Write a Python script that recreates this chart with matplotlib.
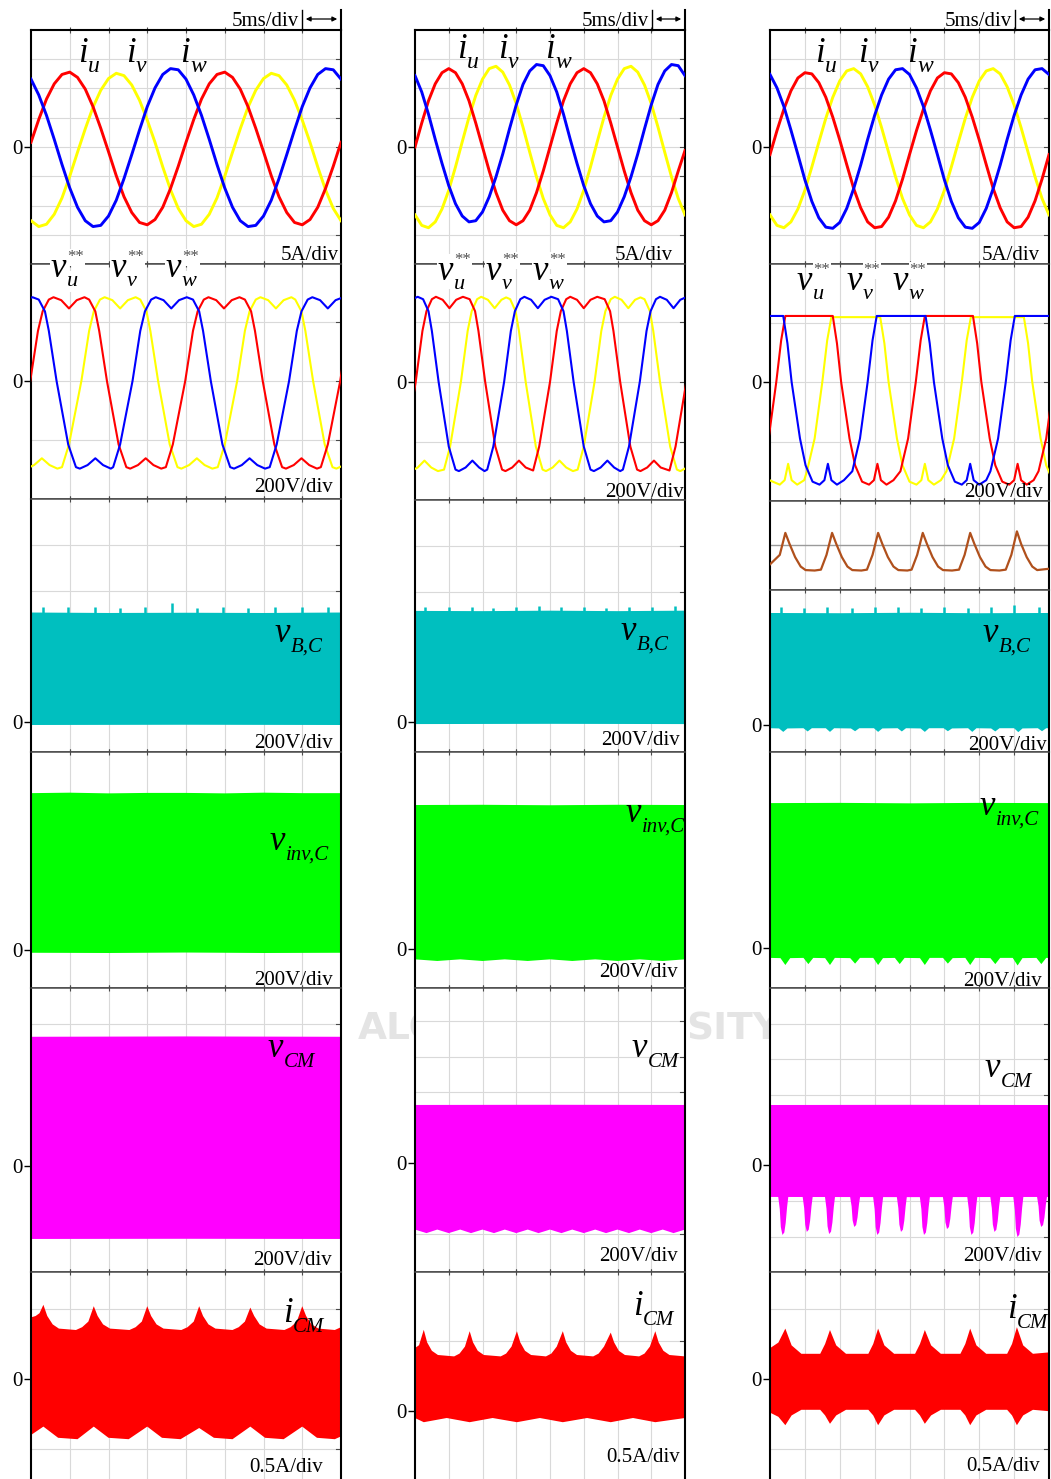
import numpy as np
import matplotlib
matplotlib.use("Agg")
import matplotlib.pyplot as plt
from matplotlib.lines import Line2D
from matplotlib.patches import FancyArrowPatch
from matplotlib.transforms import blended_transform_factory

plt.rcParams["font.family"] = ["Liberation Serif", "DejaVu Serif"]

# ------------------------------------------------------------------ data
# time axis: 8 divisions of 5 ms; phase currents sampled every 1 ms
t_cur = list(range(41))

# ---- case 1 : phase currents (A)
iu_1 = [0.8, 4.7, 8.2, 10.8, 12.4, 12.8, 11.9, 9.9, 6.9, 3.2,
        -0.8, -4.9, -8.5, -11.2, -12.9, -13.3, -12.4, -10.3, -7.1, -3.3,
        0.8, 4.7, 8.2, 10.8, 12.4, 12.8, 11.9, 9.9, 6.9, 3.2,
        -0.8, -4.9, -8.5, -11.2, -12.9, -13.3, -12.4, -10.3, -7.1, -3.3, 0.8]
iv_1 = [-12.6, -13.6, -13.2, -11.5, -8.7, -5.0, -0.9, 3.1, 6.8, 9.7,
        11.7, 12.6, 12.2, 10.6, 8.0, 4.6, 0.8, -3.4, -7.3, -10.5,
        -12.6, -13.6, -13.2, -11.5, -8.7, -5.0, -0.9, 3.1, 6.8, 9.7,
        11.7, 12.6, 12.2, 10.6, 8.0, 4.6, 0.8, -3.4, -7.3, -10.5, -12.6]
iw_1 = [11.6, 8.9, 5.4, 1.3, -3.0, -7.0, -10.3, -12.6, -13.6, -13.4,
        -11.8, -9.1, -5.4, -1.3, 2.9, 6.9, 10.1, 12.4, 13.4, 13.2,
        11.6, 8.9, 5.4, 1.3, -3.0, -7.0, -10.3, -12.6, -13.6, -13.4,
        -11.8, -9.1, -5.4, -1.3, 2.9, 6.9, 10.1, 12.4, 13.4, 13.2, 11.6]

# ---- case 2 : phase currents (A)
iu_2 = [0.0, 4.1, 7.9, 10.8, 12.7, 13.4, 12.7, 10.8, 7.9, 4.1,
        0.0, -4.1, -7.8, -10.8, -12.6, -13.3, -12.6, -10.8, -7.8, -4.1,
        0.0, 4.1, 7.9, 10.8, 12.7, 13.4, 12.7, 10.8, 7.9, 4.1,
        0.0, -4.1, -7.8, -10.8, -12.6, -13.3, -12.6, -10.8, -7.8, -4.1, -0.6]
iv_2 = [-11.6, -13.4, -13.8, -12.8, -10.6, -7.4, -3.4, 0.9, 5.1, 8.8,
        11.6, 13.4, 13.8, 12.8, 10.6, 7.4, 3.4, -0.9, -5.1, -8.8,
        -11.6, -13.4, -13.8, -12.8, -10.6, -7.4, -3.4, 0.9, 5.1, 8.8,
        11.6, 13.4, 13.8, 12.8, 10.6, 7.4, 3.4, -0.9, -5.1, -8.8, -11.6]
iw_2 = [12.2, 9.4, 5.6, 1.3, -2.8, -6.6, -9.7, -11.8, -12.8, -12.6,
        -11.1, -8.5, -5.1, -1.2, 3.1, 7.2, 10.7, 13.0, 14.1, 13.9,
        12.2, 9.4, 5.6, 1.3, -2.8, -6.6, -9.7, -11.8, -12.8, -12.6,
        -11.1, -8.5, -5.1, -1.2, 3.1, 7.2, 10.7, 13.0, 14.1, 13.9, 12.2]

# ---- case 3 : phase currents (A)
iu_3 = [-1.3, 2.8, 6.5, 9.6, 11.8, 12.7, 12.5, 11.0, 8.5, 5.1,
        1.2, -3.0, -7.1, -10.4, -12.8, -13.8, -13.6, -12.0, -9.2, -5.5,
        -1.3, 2.8, 6.5, 9.6, 11.8, 12.7, 12.5, 11.0, 8.5, 5.1,
        1.2, -3.0, -7.1, -10.4, -12.8, -13.8, -13.6, -12.0, -9.2, -5.5, -1.3]
iv_3 = [-11.6, -13.4, -13.8, -12.8, -10.6, -7.4, -3.4, 0.8, 4.9, 8.5,
        11.3, 13.0, 13.4, 12.5, 10.3, 7.2, 3.3, -0.9, -5.1, -8.8,
        -11.6, -13.4, -13.8, -12.8, -10.6, -7.4, -3.4, 0.8, 4.9, 8.5,
        11.3, 13.0, 13.4, 12.5, 10.3, 7.2, 3.3, -0.9, -5.1, -8.8, -11.6]
iw_3 = [12.4, 10.1, 6.9, 2.9, -1.3, -5.6, -9.3, -12.1, -13.7, -13.9,
        -12.9, -10.5, -7.1, -3.1, 1.3, 5.4, 8.9, 11.6, 13.2, 13.4,
        12.4, 10.1, 6.9, 2.9, -1.3, -5.6, -9.3, -12.1, -13.7, -13.9,
        -12.9, -10.5, -7.1, -3.1, 1.3, 5.4, 8.9, 11.6, 13.2, 13.4, 12.4]

# ---- reference voltages v**, (ms, V) breakpoints
vu_ref_1 = [(-3.2, -297), (-2.6, -292), (-1.7, -215), (-0.1, 0), (0.9, 170), (1.5, 236), (2.3, 276),
            (2.9, 284), (3.9, 274), (4.9, 246), (5.9, 274), (6.9, 284),
            (7.5, 276), (8.3, 236), (8.8, 170), (9.8, 0), (11.3, -215), (12.3, -292),
            (12.8, -297), (13.8, -285), (14.8, -262), (15.8, -285), (16.8, -297),
            (17.4, -292), (18.3, -215), (19.9, 0), (20.9, 170), (21.5, 236), (22.3, 276),
            (22.9, 284), (23.9, 274), (24.9, 246), (25.9, 274), (26.9, 284),
            (27.6, 276), (28.4, 236), (28.9, 170), (29.9, 0), (31.4, -215), (32.4, -292),
            (32.9, -297), (33.9, -285), (34.9, -262), (35.9, -285), (36.9, -297),
            (37.4, -292), (38.3, -215), (39.9, 0), (40.9, 170)]
vv_ref_1 = [(-1.1, -292), (-0.6, -297), (0.4, -285), (1.4, -262), (2.4, -285), (3.4, -297),
            (4.0, -292), (4.9, -215), (6.5, 0), (7.5, 170), (8.1, 236), (8.9, 276),
            (9.5, 284), (10.5, 274), (11.5, 246), (12.5, 274), (13.5, 284),
            (14.1, 276), (14.9, 236), (15.4, 170), (16.4, 0), (17.9, -215), (18.9, -292),
            (19.4, -297), (20.4, -285), (21.4, -262), (22.4, -285), (23.4, -297),
            (24.1, -292), (25.0, -215), (26.6, 0), (27.6, 170), (28.2, 236), (29.0, 276),
            (29.6, 284), (30.6, 274), (31.6, 246), (32.6, 274), (33.6, 284),
            (34.1, 276), (34.9, 236), (35.4, 170), (36.4, 0), (37.9, -215), (38.9, -292),
            (39.4, -297), (40.4, -285)]
vw_ref_1 = [(-2.8, 274), (-1.8, 246), (-0.8, 274), (0.2, 284),
            (1.0, 276), (1.8, 236), (2.3, 170), (3.3, 0), (4.8, -215), (5.8, -292),
            (6.3, -297), (7.3, -285), (8.3, -262), (9.3, -285), (10.3, -297),
            (10.6, -292), (11.5, -215), (13.1, 0), (14.1, 170), (14.7, 236), (15.5, 276),
            (16.1, 284), (17.1, 274), (18.1, 246), (19.1, 274), (20.1, 284),
            (20.9, 276), (21.7, 236), (22.2, 170), (23.2, 0), (24.7, -215), (25.7, -292),
            (26.2, -297), (27.2, -285), (28.2, -262), (29.2, -285), (30.2, -297),
            (30.8, -292), (31.7, -215), (33.3, 0), (34.3, 170), (34.9, 236), (35.7, 276),
            (36.3, 284), (37.3, 274), (38.3, 246), (39.3, 274), (40.3, 284)]

vu_ref_2 = [(-3.8, -285), (-2.8, -297), (-2.4, -292), (-1.5, -215), (0.1, 0), (1.1, 170), (1.7, 236), (2.5, 276),
            (3.1, 284), (4.1, 274), (5.1, 246), (6.1, 274), (7.1, 284),
            (8.1, 276), (8.9, 236), (9.4, 170), (10.4, 0), (11.9, -215), (12.9, -292),
            (13.4, -297), (14.4, -285), (15.4, -262), (16.4, -285),
            (17.5, -295), (18.4, -215), (20.0, 0), (21.0, 170), (21.6, 236), (22.4, 276),
            (23.0, 284), (24.0, 274), (25.0, 246), (26.0, 274), (27.0, 284),
            (28.1, 276), (28.9, 236), (29.4, 170), (30.4, 0), (31.9, -215), (32.9, -292),
            (33.4, -297), (34.4, -285), (35.4, -262), (36.4, -285),
            (37.7, -295), (38.6, -215), (40.2, 0), (41.2, 170)]
vv_ref_2 = [(-1.1, -292), (-0.6, -297), (0.4, -285), (1.4, -262), (2.4, -285), (3.4, -297),
            (4.3, -292), (5.2, -215), (6.8, 0), (7.8, 170), (8.4, 236), (9.2, 276),
            (9.8, 284), (10.8, 274), (11.8, 246), (12.8, 274), (13.5, 282),
            (14.1, 276), (14.9, 236), (15.4, 170), (16.4, 0), (17.9, -215), (18.9, -292),
            (19.4, -297), (20.4, -285), (21.4, -262), (22.4, -285), (23.4, -297),
            (24.1, -292), (25.0, -215), (26.6, 0), (27.6, 170), (28.2, 236), (29.0, 276),
            (29.6, 284), (30.6, 274), (31.6, 246), (32.6, 274), (33.4, 282),
            (34.0, 276), (34.8, 236), (35.3, 170), (36.3, 0), (37.8, -215), (38.8, -292),
            (39.3, -297), (40.3, -285)]
vw_ref_2 = [(-2.6, 274), (-1.6, 246), (-0.6, 274), (0.4, 284),
            (1.2, 276), (2.0, 236), (2.5, 170), (3.5, 0), (5.0, -215), (6.0, -292),
            (6.5, -297), (7.5, -285), (8.5, -262), (9.5, -285), (10.3, -297),
            (10.7, -292), (11.6, -215), (13.2, 0), (14.2, 170), (14.8, 236), (15.6, 276),
            (16.2, 284), (17.2, 274), (18.2, 246), (19.2, 274), (20.2, 284),
            (21.2, 276), (22.0, 236), (22.5, 170), (23.5, 0), (25.0, -215), (26.0, -292),
            (26.5, -297), (27.5, -285), (28.5, -262), (29.5, -285), (30.4, -297),
            (30.8, -292), (31.7, -215), (33.3, 0), (34.3, 170), (34.9, 236), (35.7, 276),
            (36.3, 284), (37.3, 274), (38.3, 246), (39.3, 274), (40.3, 284)]

vu_ref_3 = [(-2.5, -330), (-1.3, -300), (-0.2, -190), (0.9, 0), (1.6, 140), (2.2, 222),
            (9.0, 222), (9.6, 130), (10.2, 0), (11.4, -190), (12.2, -280), (13.2, -335),
            (14.2, -345), (14.9, -330), (15.4, -275), (15.9, -330), (16.7, -345), (17.7, -330),
            (18.7, -300), (19.8, -190), (20.9, 0), (21.6, 140), (22.2, 222),
            (29.1, 222), (29.7, 130), (30.3, 0), (31.5, -190), (32.3, -280), (33.3, -335),
            (34.3, -345), (35.0, -330), (35.5, -275), (36.0, -330), (36.8, -345), (37.8, -330),
            (38.5, -300), (39.6, -190), (40.7, 0)]
vv_ref_3 = [(-1.0, -320), (0.4, -335), (1.4, -345), (2.1, -330), (2.6, -275), (3.1, -330), (3.9, -345), (4.9, -330),
            (5.3, -300), (6.4, -190), (7.5, 0), (8.2, 140), (8.8, 218),
            (15.8, 218), (16.4, 130), (17.0, 0), (18.2, -190), (19.0, -280), (20.0, -335),
            (21.0, -345), (21.7, -330), (22.2, -275), (22.7, -330), (23.5, -345), (24.5, -330),
            (25.3, -300), (26.4, -190), (27.5, 0), (28.2, 140), (28.8, 218),
            (36.4, 218), (37.0, 130), (37.6, 0), (38.8, -190), (39.6, -280), (40.6, -335)]
vw_ref_3 = [(-1.0, 222), (1.9, 222), (2.5, 130), (3.1, 0), (4.3, -190), (5.1, -280), (6.1, -335),
            (7.1, -345), (7.8, -330), (8.3, -275), (8.8, -330), (9.6, -345), (10.6, -330),
            (11.8, -300), (12.9, -190), (14.0, 0), (14.7, 140), (15.3, 222),
            (22.3, 222), (22.9, 130), (23.5, 0), (24.7, -190), (25.5, -280), (26.5, -335),
            (27.5, -345), (28.2, -330), (28.7, -275), (29.2, -330), (30.0, -345), (31.0, -330),
            (31.6, -300), (32.7, -190), (33.8, 0), (34.5, 140), (35.1, 222), (41.0, 222)]

# ---- case 3 : extra low-frequency ripple trace (V)
ripple_3 = [(0.0, -88), (1.4, -45), (2.2, 55), (2.8, 5), (3.6, -55), (4.4, -98), (5.1, -114), (6.4, -116),
            (7.3, -112), (8.1, -45), (8.9, 55), (9.5, 5), (10.3, -55), (11.1, -98), (11.8, -114), (13.1, -116),
            (13.9, -112), (14.7, -45), (15.5, 55), (16.1, 5), (16.9, -55), (17.7, -98), (18.4, -114), (19.7, -116),
            (20.3, -112), (21.1, -45), (21.9, 55), (22.5, 5), (23.3, -55), (24.1, -98), (24.8, -114), (26.1, -116),
            (27.1, -112), (27.9, -45), (28.7, 55), (29.3, 5), (30.1, -55), (30.9, -98), (31.6, -114), (32.9, -116),
            (33.8, -112), (34.6, -45), (35.4, 62), (36.0, 5), (36.8, -55), (37.6, -98), (38.3, -114), (40.0, -108)]

# ---- PWM waveform envelopes: upper / lower edges (ms, V or A) and edge spikes (ms, peak)
vbc_top_1 = [(0, 476), (10, 474), (20, 475), (30, 474), (40, 476)]
vbc_bot_1 = [(0, -13), (20, -12), (40, -13)]
vbc_spk_1 = [(1.6, 500), (4.8, 498), (8.3, 500), (11.5, 495), (14.7, 500), (18.2, 517),
             (21.4, 497), (24.8, 500), (28.0, 496), (31.5, 498), (35.0, 500), (38.3, 500)]
vinv_top_1 = [(0, 682), (5, 684), (10, 681), (15, 683), (20, 683), (25, 681), (30, 684), (35, 682), (40, 682)]
vinv_bot_1 = [(0, -12), (10, -13), (20, -11), (30, -13), (40, -12)]
vcm_top_1 = [(0, 728), (20, 730), (40, 728)]
vcm_bot_1 = [(0, -411), (20, -410), (40, -411)]
icm_top_1 = [(0, 0.44), (0.6, 0.45), (1.1, 0.47), (1.6, 0.53), (2.1, 0.45), (2.8, 0.39), (3.6, 0.36),
             (5.8, 0.35), (6.6, 0.37), (7.4, 0.41), (8.1, 0.52), (8.6, 0.45), (9.3, 0.39), (10.2, 0.36),
             (12.7, 0.35), (13.5, 0.37), (14.3, 0.41), (15.0, 0.52), (15.5, 0.45), (16.2, 0.39), (17.1, 0.36),
             (19.4, 0.35), (20.2, 0.37), (21.0, 0.41), (21.7, 0.52), (22.2, 0.45), (22.9, 0.39), (23.8, 0.36),
             (26.0, 0.35), (26.8, 0.37), (27.6, 0.41), (28.3, 0.51), (28.8, 0.45), (29.5, 0.39), (30.4, 0.36),
             (32.7, 0.35), (33.5, 0.37), (34.3, 0.41), (35.0, 0.52), (35.5, 0.45), (36.2, 0.39), (37.1, 0.36),
             (39.2, 0.35), (40, 0.37)]
icm_bot_1 = [(0, -0.40), (1.6, -0.34), (3.5, -0.42), (6.0, -0.43), (8.1, -0.34), (10.0, -0.42), (12.6, -0.43),
             (15.0, -0.34), (16.9, -0.42), (19.3, -0.43), (21.7, -0.35), (23.6, -0.42), (26.0, -0.43),
             (28.3, -0.34), (30.2, -0.42), (32.6, -0.43), (35.0, -0.34), (36.9, -0.42), (39.2, -0.43), (40, -0.41)]

vbc_top_2 = [(0, 483), (10, 482), (20, 484), (30, 482), (40, 484)]
vbc_bot_2 = [(0, -9), (20, -8), (40, -9)]
vbc_spk_2 = [(1.5, 500), (5.0, 498), (8.4, 502), (11.6, 497), (15.0, 500), (18.4, 505),
             (21.6, 498), (25.0, 500), (28.3, 497), (31.7, 500), (35.1, 498), (38.5, 505)]
vinv_top_2 = [(0, 626), (10, 627), (20, 625), (30, 627), (40, 626)]
vinv_bot_2 = [(0, -45), (3.3, -52), (6.7, -45), (10, -52), (13.3, -45), (16.7, -52), (20, -45),
              (23.3, -52), (26.7, -45), (30, -52), (33.3, -45), (36.7, -52), (40, -45)]
vcm_top_2 = [(0, 327), (20, 328), (40, 327)]
vcm_bot_2 = [(0, -375), (1.7, -395), (3.3, -375), (5.0, -395), (6.7, -375), (8.3, -395), (10, -375),
             (11.7, -395), (13.3, -375), (15.0, -395), (16.7, -375), (18.3, -395), (20, -375),
             (21.7, -395), (23.3, -375), (25.0, -395), (26.7, -375), (28.3, -395), (30, -375),
             (31.7, -395), (33.3, -375), (35.0, -395), (36.7, -375), (38.3, -395), (40, -375)]
icm_top_2 = [(0, 0.45), (0.6, 0.47), (1.3, 0.58), (1.8, 0.49), (2.5, 0.43), (3.4, 0.40),
             (5.8, 0.39), (6.6, 0.41), (7.4, 0.46), (8.1, 0.57), (8.6, 0.49), (9.3, 0.43), (10.2, 0.40),
             (12.7, 0.39), (13.5, 0.41), (14.3, 0.46), (15.1, 0.57), (15.6, 0.49), (16.3, 0.43), (17.2, 0.40),
             (19.4, 0.39), (20.2, 0.41), (21.0, 0.46), (21.9, 0.57), (22.4, 0.49), (23.1, 0.43), (24.0, 0.40),
             (26.4, 0.39), (27.2, 0.41), (28.0, 0.46), (29.0, 0.56), (29.5, 0.49), (30.2, 0.43), (31.1, 0.40),
             (33.2, 0.39), (34.0, 0.41), (34.8, 0.46), (35.6, 0.57), (36.1, 0.49), (36.8, 0.43), (37.7, 0.40),
             (40, 0.39)]
icm_bot_2 = [(0, -0.05), (1.3, -0.08), (4.7, -0.05), (8.1, -0.08), (11.5, -0.05), (15.1, -0.08),
             (18.5, -0.05), (21.9, -0.08), (25.5, -0.05), (29.0, -0.08), (32.3, -0.05), (35.6, -0.08),
             (40, -0.05)]

vbc_top_3 = [(0, 487), (10, 486), (20, 488), (30, 486), (40, 487)]
vbc_bot_3 = [(0, -14), (1.3, -15), (1.9, -30), (2.5, -15), (4.8, -14), (5.4, -28), (6.0, -14),
             (8.0, -14), (8.6, -30), (9.2, -14), (11.6, -15), (12.2, -27), (12.8, -14),
             (14.9, -14), (15.5, -30), (16.1, -15), (18.3, -14), (18.9, -28), (19.5, -14),
             (21.6, -15), (22.2, -30), (22.8, -14), (24.9, -14), (25.5, -27), (26.1, -15),
             (28.4, -14), (29.0, -30), (29.6, -14), (31.7, -15), (32.3, -28), (32.9, -14),
             (35.0, -14), (35.6, -31), (36.2, -15), (38.4, -14), (39.0, -27), (39.6, -14), (40, -14)]
vbc_spk_3 = [(1.6, 515), (4.9, 510), (8.2, 515), (11.7, 508), (15.0, 512), (18.3, 515),
             (21.6, 510), (25.0, 515), (28.4, 510), (31.7, 512), (35.0, 520), (38.5, 515)]
vinv_top_3 = [(0, 630), (10, 631), (20, 629), (30, 631), (40, 630)]
vinv_bot_3 = [(0, -43), (1.5, -44), (2.2, -74), (2.9, -44), (4.8, -43), (5.5, -70), (6.2, -43),
              (7.9, -44), (8.6, -74), (9.3, -43), (11.5, -44), (12.2, -68), (12.9, -43),
              (14.8, -43), (15.5, -74), (16.2, -44), (17.9, -43), (18.6, -70), (19.3, -43),
              (21.5, -44), (22.2, -74), (22.9, -43), (24.8, -43), (25.5, -68), (26.2, -44),
              (28.0, -43), (28.7, -74), (29.4, -43), (31.6, -44), (32.3, -70), (33.0, -43),
              (34.8, -43), (35.5, -76), (36.2, -44), (38.2, -43), (38.9, -70), (39.6, -43), (40, -43)]
vcm_top_3 = [(0, 338), (20, 339), (40, 338)]
vcm_bot_3 = [(0, -180), (20, -181), (40, -180)]
vcm_dip_3 = [(1.9, -394), (5.4, -377), (8.6, -389), (12.2, -349), (15.5, -394), (18.9, -377),
             (22.2, -394), (25.5, -361), (29.0, -394), (32.3, -377), (35.6, -406), (39.0, -349)]
icm_top_3 = [(0, 0.22), (1.2, 0.26), (2.2, 0.36), (3.1, 0.24), (4.5, 0.18), (7.2, 0.18), (7.9, 0.25),
             (8.6, 0.35), (9.5, 0.24), (10.9, 0.18), (14.1, 0.18), (14.8, 0.25), (15.5, 0.36),
             (16.4, 0.24), (17.8, 0.18), (20.8, 0.18), (21.5, 0.25), (22.2, 0.35), (23.1, 0.24),
             (24.5, 0.18), (27.3, 0.18), (28.0, 0.25), (28.7, 0.36), (29.6, 0.24), (31.0, 0.18),
             (34.0, 0.18), (34.7, 0.25), (35.4, 0.37), (36.3, 0.24), (37.7, 0.18), (40, 0.19)]
icm_bot_3 = [(0, -0.24), (1.2, -0.27), (2.2, -0.33), (3.1, -0.26), (4.5, -0.22), (7.2, -0.22), (7.9, -0.26),
             (8.6, -0.32), (9.5, -0.26), (10.9, -0.22), (14.1, -0.22), (14.8, -0.26), (15.5, -0.33),
             (16.4, -0.26), (17.8, -0.22), (20.8, -0.22), (21.5, -0.26), (22.2, -0.32), (23.1, -0.26),
             (24.5, -0.22), (27.3, -0.22), (28.0, -0.26), (28.7, -0.33), (29.6, -0.26), (31.0, -0.22),
             (34.0, -0.22), (34.7, -0.26), (35.4, -0.33), (36.3, -0.26), (37.7, -0.22), (40, -0.23)]

# ------------------------------------------------------------------ drawing
W, H = 1051, 1479
fig = plt.figure(figsize=(W / 100, H / 100), dpi=100)
fig.patch.set_facecolor("white")
renderer = fig.canvas.get_renderer()

GRID = "#d9d9d9"
SEP = "#4a4a4a"
RED, YEL, BLU = "#ff0000", "#ffff00", "#0000ff"
TEAL, GREEN, MAG, BROWN = "#00bfbf", "#00ff00", "#ff00ff", "#b0501c"
TXT = 15


def fx(px):
    return px / W


def fy(py):
    return 1 - py / H


def panel(x0, x1, top, bot, zero, ppu, grid_px, first=False, last=False, zero_label=True):
    ax = fig.add_axes([fx(x0), fy(bot), (x1 - x0) / W, (bot - top) / H])
    ax.set_xlim(0, 40)
    ax.set_ylim(-(bot - zero) / ppu, (zero - top) / ppu)
    ax.set_facecolor("white")
    for k in range(1, 8):
        ax.axvline(5 * k, color=GRID, lw=0.8, zorder=0.5)
    tr = blended_transform_factory(ax.transAxes, ax.transData)
    for p in grid_px:
        v = (zero - p) / ppu
        ax.axhline(v, color=GRID, lw=0.8, zorder=0.5)
        ax.plot([1 - 5.0 / (x1 - x0), 1], [v, v], transform=tr, color=SEP, lw=0.8, zorder=1)
    for s in ("left", "right"):
        ax.spines[s].set_color("black")
        ax.spines[s].set_linewidth(1.5)
    for s in ("top", "bottom"):
        ax.spines[s].set_color(SEP)
        ax.spines[s].set_linewidth(1.1)
    if first:
        ax.spines["top"].set_color("black")
        ax.spines["top"].set_linewidth(1.5)
    if last:
        ax.spines["bottom"].set_visible(False)
    ax.set_xticks(range(5, 40, 5))
    ax.tick_params(axis="x", which="both", direction="inout", length=5, width=0.8, color=SEP,
                   top=True, bottom=not last, labelbottom=False)
    if zero_label:
        ax.set_yticks([0])
        ax.set_yticklabels(["0"])
        ax.tick_params(axis="y", direction="out", length=5, width=1.0, pad=1, labelsize=TXT,
                       left=True, right=False, colors="black")
    else:
        ax.set_yticks([])
    return ax


def trace(ax, t, v, color, lw):
    ax.plot(t, v, color=color, lw=lw, zorder=3, solid_joinstyle="round")


def knots(ax, pts, color, lw):
    t, v = zip(*pts)
    trace(ax, t, v, color, lw)


def band(ax, top, bot, color, spikes=(), dips=(), dip_base=None):
    tt, vt = zip(*top)
    tb, vb = zip(*bot)
    xs = list(tt) + list(tb)[::-1]
    ys = list(vt) + list(vb)[::-1]
    ax.fill(xs, ys, color=color, lw=0, zorder=2)
    mid = 0.5 * (np.mean(vt) + np.mean(vb))
    for t, v in spikes:
        ax.plot([t, t], [mid, v], color=color, lw=1.8, zorder=2, solid_capstyle="butt")
    for t, d in dips:
        b = dip_base + 10
        ax.fill([t - 0.75, t - 0.5, t - 0.35, t - 0.12, t + 0.15, t + 0.35, t + 0.55, t + 0.75],
                [b, b + (d - b) * 0.35, b + (d - b) * 0.8, d, d + (b - d) * 0.06,
                 b + (d - b) * 0.7, b + (d - b) * 0.3, b],
                color=color, lw=0, zorder=2)


def ftext(x, y, s, ha="left", size=TXT, color="black", bg=False, style="normal", zorder=3):
    kw = {}
    if bg:
        kw["bbox"] = dict(facecolor="white", edgecolor="none", pad=0.4)
    return fig.text(fx(x), fy(y), s, ha=ha, va="baseline", fontsize=size, color=color,
                    style=style, zorder=zorder, **kw)


def sublabel(x, y, base, sub, drop, size=25, subsize=15, stars=False, bg=False):
    t = ftext(x, y, base, size=size, style="italic", bg=bg)
    x_end = t.get_window_extent(renderer=renderer).x1
    ftext(x_end + 0.5, y + drop, sub, size=subsize, style="italic", bg=bg)
    if stars:
        ftext(x_end + 1, y - 16, "**", size=12, color="#505050", bg=True)


def header(x1, bar):
    fig.add_artist(Line2D([fx(bar), fx(bar)], [fy(10), fy(30)], color="black", lw=1.0))
    fig.add_artist(Line2D([fx(x1), fx(x1)], [fy(10), fy(30)], color="black", lw=1.5))
    fig.add_artist(FancyArrowPatch((fx(bar + 1), fy(19)), (fx(x1 - 1), fy(19)),
                                   arrowstyle="<|-|>", mutation_scale=7, lw=0.9,
                                   color="black", transform=fig.transFigure))
    ftext(bar - 3, 26, "5ms/div", ha="right")


# faint background lettering, showing only in the gaps between the columns
for xw, word in [(358, "ALON"), (686, "SITY")]:
    fig.text(fx(xw), fy(1040), word, ha="left", va="baseline", fontsize=27, fontweight="bold",
             family="DejaVu Sans", color="#e4e4e4", zorder=-5)

cases = [
    dict(x0=31, x1=341, bar=302,
         cur=(iu_1, iv_1, iw_1), ref=(vu_ref_1, vv_ref_1, vw_ref_1),
         B=(264, 499, 381, 0.295, [322, 381, 440]),
         C=(499, 752, 722, 0.23, [545, 591]),
         D=(752, 988, 950, 0.23, []),
         E=(988, 1272, 1166, 0.1775, [1024, 1059, 1095, 1130, 1166, 1201, 1237]),
         F=(1272, 1480, 1379, 140.0, [1309, 1379, 1449]),
         vbc=(vbc_top_1, vbc_bot_1, vbc_spk_1), vinv=(vinv_top_1, vinv_bot_1),
         vcm=(vcm_top_1, vcm_bot_1, ()), icm=(icm_top_1, icm_bot_1),
         ilab=[(78, 62), (126, 62), (180, 62)], i_div=(339, 260),
         vlab=[(51, 277), (111, 277), (166, 277)], vlab_bg=True,
         divs=[(333, 492), (333, 748), (333, 985), (332, 1265)], a_div=(323, 1472),
         bc=(275, 642), inv=(270, 850), cm=(268, 1057), icml=(283, 1322)),
    dict(x0=415, x1=685, bar=652,
         cur=(iu_2, iv_2, iw_2), ref=(vu_ref_2, vv_ref_2, vw_ref_2),
         B=(264, 500, 382, 0.30, [322, 382, 442]),
         C=(500, 752, 722, 0.23, [546, 592]),
         D=(752, 988, 949, 0.23, []),
         E=(988, 1272, 1163, 0.1775, [1021, 1057, 1092, 1128, 1163, 1199, 1234]),
         F=(1272, 1480, 1411, 140.0, [1341, 1411]),
         vbc=(vbc_top_2, vbc_bot_2, vbc_spk_2), vinv=(vinv_top_2, vinv_bot_2),
         vcm=(vcm_top_2, vcm_bot_2, ()), icm=(icm_top_2, icm_bot_2),
         ilab=[(457, 58), (498, 58), (545, 58)], i_div=(673, 260),
         vlab=[(438, 280), (486, 280), (533, 280)], vlab_bg=True,
         divs=[(684, 497), (680, 745), (678, 977), (678, 1261)], a_div=(680, 1462),
         bc=(621, 640), inv=(626, 822), cm=(632, 1057), icml=(633, 1315)),
    dict(x0=770, x1=1049, bar=1015,
         cur=(iu_3, iv_3, iw_3), ref=(vu_ref_3, vv_ref_3, vw_ref_3),
         B=(264, 501, 382, 0.2975, [323, 382, 442]),
         C=(590, 752, 725, 0.23, []),
         D=(752, 988, 948, 0.23, []),
         E=(988, 1272, 1165, 0.1775, [1024, 1059, 1095, 1130, 1165, 1201, 1237]),
         F=(1272, 1480, 1379, 140.0, [1309, 1379, 1449]),
         vbc=(vbc_top_3, vbc_bot_3, vbc_spk_3), vinv=(vinv_top_3, vinv_bot_3),
         vcm=(vcm_top_3, vcm_bot_3, vcm_dip_3), icm=(icm_top_3, icm_bot_3),
         ilab=[(815, 62), (858, 62), (907, 62)], i_div=(1040, 260),
         vlab=[(797, 290), (847, 290), (893, 290)], vlab_bg=False,
         divs=[(1043, 497), (1047, 750), (1042, 986), (1042, 1261)], a_div=(1040, 1471),
         bc=(983, 642), inv=(980, 815), cm=(985, 1077), icml=(1007, 1318)),
]

for c in cases:
    x0, x1 = c["x0"], c["x1"]

    # phase currents, 5 A/div
    axA = panel(x0, x1, 30, 264, 147, 29.25 / 5, [59, 88, 118, 147, 176, 206, 235], first=True)
    iu, iv, iw = c["cur"]
    trace(axA, t_cur, iv, YEL, 2.1)
    trace(axA, t_cur, iu, RED, 2.1)
    trace(axA, t_cur, iw, BLU, 2.1)

    # voltage references, 200 V/div
    top, bot, zero, ppu, g = c["B"]
    axB = panel(x0, x1, top, bot, zero, ppu, g)
    vu, vv, vw = c["ref"]
    knots(axB, vv, YEL, 1.5)
    knots(axB, vu, RED, 1.5)
    knots(axB, vw, BLU, 1.5)

    if x0 == 770:
        axR = panel(x0, x1, 501, 590, 545, 0.22, [], zero_label=False)
        axR.axhline(0, color="#9a9a9a", lw=1.0, zorder=0.6)
        knots(axR, ripple_3, BROWN, 1.6)

    top, bot, zero, ppu, g = c["C"]
    axC = panel(x0, x1, top, bot, zero, ppu, g)
    band(axC, c["vbc"][0], c["vbc"][1], TEAL, spikes=c["vbc"][2])

    top, bot, zero, ppu, g = c["D"]
    axD = panel(x0, x1, top, bot, zero, ppu, g)
    band(axD, c["vinv"][0], c["vinv"][1], GREEN)

    top, bot, zero, ppu, g = c["E"]
    axE = panel(x0, x1, top, bot, zero, ppu, g)
    vt, vb, dips = c["vcm"]
    band(axE, vt, vb, MAG, dips=dips, dip_base=vb[0][1])

    top, bot, zero, ppu, g = c["F"]
    axF = panel(x0, x1, top, bot, zero, ppu, g, last=True)
    band(axF, c["icm"][0], c["icm"][1], RED)

    # annotations
    header(x1, c["bar"])
    for (x, y), s in zip(c["ilab"], ["u", "v", "w"]):
        sublabel(x, y, "i", s, drop=10, subsize=17)
    ftext(*c["i_div"], "5A/div", ha="right")
    for (x, y), s in zip(c["vlab"], ["u", "v", "w"]):
        sublabel(x, y, "v", s, drop=9, subsize=16, stars=True, bg=c["vlab_bg"])
    for x, y in c["divs"]:
        ftext(x, y, "200V/div", ha="right")
    ftext(*c["a_div"], "0.5A/div", ha="right")
    sublabel(*c["bc"], "v", "B,C", drop=10)
    sublabel(*c["inv"], "v", "inv,C", drop=10)
    sublabel(*c["cm"], "v", "CM", drop=10)
    sublabel(*c["icml"], "i", "CM", drop=10)

fig.savefig("out.png", dpi=100, facecolor="white")
